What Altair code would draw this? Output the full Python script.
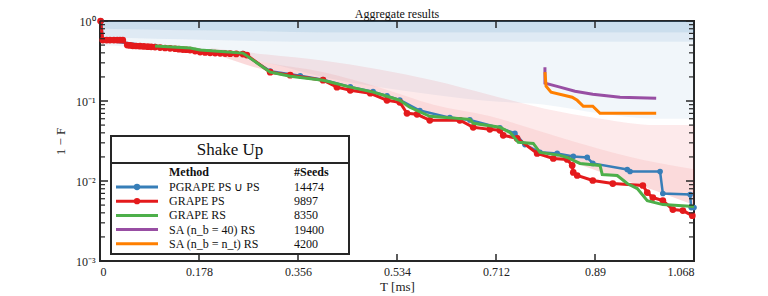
import altair as alt
import pandas as pd

# ---------------- data ----------------
x_ticks = [0, 0.178, 0.356, 0.534, 0.712, 0.89, 1.068]
x_tick_labels = ["0", "0.178", "0.356", "0.534", "0.712", "0.89", "1.068"]
y_ticks = [1.0, 0.1, 0.01, 0.001]
y_tick_labels = ["10⁰", "10⁻¹", "10⁻²", "10⁻³"]
y_minor = [k * d for d in (0.001, 0.01, 0.1) for k in range(2, 10)]

pgrape_T = [0.002, 0.005, 0.099, 0.257, 0.306, 0.360, 0.401, 0.450, 0.491, 0.516, 0.539,
            0.575, 0.629, 0.665, 0.719, 0.746, 0.764, 0.791, 0.822, 0.851, 0.876, 0.886,
            0.948, 0.953, 1.007, 1.012, 1.061, 1.063, 1.068]
pgrape_v = [1.0, 0.578, 0.480, 0.392, 0.236, 0.207, 0.185, 0.150, 0.131, 0.116, 0.103,
            0.076, 0.0620, 0.0580, 0.0462, 0.0394, 0.0285, 0.0228, 0.0221, 0.0203, 0.0197, 0.01658,
            0.01394, 0.01315, 0.01315, 0.00697, 0.00677, 0.00465, 0.00465]

grape_ps_T = [0.001, 0.005, 0.012, 0.018, 0.025, 0.031, 0.036, 0.041, 0.049, 0.054, 0.059,
              0.065, 0.072, 0.079, 0.086, 0.092, 0.099, 0.108, 0.117, 0.126, 0.135, 0.142,
              0.149, 0.155, 0.162, 0.171, 0.180, 0.189, 0.198, 0.207, 0.216, 0.225, 0.234,
              0.245, 0.257, 0.264, 0.306, 0.342,
              0.401, 0.426, 0.450, 0.486, 0.516, 0.539, 0.552, 0.570, 0.593, 0.647, 0.671,
              0.701, 0.719, 0.725, 0.750, 0.786, 0.815, 0.840, 0.849, 0.851, 0.858, 0.886,
              0.922, 0.976, 0.984, 0.994, 1.012, 1.030, 1.048, 1.065]
grape_ps_v = [1.0, 0.578, 0.578, 0.578, 0.578, 0.578, 0.578, 0.578, 0.500, 0.495, 0.490,
              0.487, 0.485, 0.481, 0.478, 0.475, 0.472, 0.466, 0.460, 0.455, 0.450, 0.445,
              0.440, 0.437, 0.433, 0.421, 0.409, 0.404, 0.400, 0.397, 0.395, 0.392, 0.390,
              0.388, 0.386, 0.375, 0.229, 0.210,
              0.182, 0.149, 0.136, 0.125, 0.102, 0.0964, 0.0702, 0.0682, 0.0574, 0.0574, 0.0469,
              0.0442, 0.0430, 0.0372, 0.0341, 0.0221, 0.0191, 0.0186, 0.01565, 0.01279, 0.01172, 0.01015,
              0.00930, 0.00878, 0.00717, 0.00621, 0.00569, 0.00439, 0.00427, 0.00369]

grape_rs_T = [0.099, 0.162, 0.180, 0.257, 0.306, 0.342, 0.401, 0.450, 0.491, 0.516, 0.539,
              0.557, 0.593, 0.665, 0.671, 0.719, 0.737, 0.752, 0.779, 0.791, 0.827, 0.840,
              0.863, 0.899, 0.903, 0.930, 0.948, 0.966, 0.984, 1.012, 1.068]
grape_rs_v = [0.486, 0.459, 0.433, 0.397, 0.229, 0.204, 0.182, 0.149, 0.129, 0.1147, 0.102,
              0.0835, 0.0644, 0.0590, 0.0526, 0.0469, 0.0406, 0.0304, 0.0295, 0.0228, 0.0209, 0.0197,
              0.01658, 0.01565, 0.01207, 0.01172, 0.00930, 0.00805, 0.00569, 0.00507, 0.00479]

sa40_T = [0.800, 0.800, 0.827, 0.854, 0.886, 0.935, 1.000]
sa40_v = [0.265, 0.167, 0.149, 0.1325, 0.1215, 0.1114, 0.1082]

sant_T = [0.800, 0.802, 0.811, 0.849, 0.858, 0.869, 0.886, 0.899, 1.000]
sant_v = [0.229, 0.153, 0.129, 0.1114, 0.102, 0.0859, 0.0859, 0.0702, 0.0702]

# approximate envelopes of the background scatter clouds
cloud_T = [0.005, 0.1, 0.2, 0.3, 0.4, 0.5, 0.6, 0.7, 0.8, 0.9, 1.0, 1.068]
blue_core_lo = [0.80, 0.78, 0.76, 0.74, 0.72, 0.72, 0.72, 0.72, 0.72, 0.72, 0.72, 0.72]
blue_dense_lo = [0.62, 0.60, 0.58, 0.56, 0.55, 0.55, 0.55, 0.55, 0.55, 0.55, 0.55, 0.55]
blue_sparse_lo = [0.50, 0.45, 0.40, 0.30, 0.20, 0.15, 0.12, 0.10, 0.09, 0.07, 0.06, 0.06]
red_T = [0.2, 0.3, 0.4, 0.5, 0.6, 0.7, 0.8, 0.9, 1.0, 1.068]
red_hi = [0.46, 0.38, 0.32, 0.25, 0.18, 0.12, 0.08, 0.06, 0.05, 0.05]
red_mid = [0.43, 0.30, 0.23, 0.15, 0.09, 0.065, 0.040, 0.025, 0.017, 0.014]
red_lo = [0.40, 0.24, 0.18, 0.11, 0.065, 0.045, 0.023, 0.013, 0.0075, 0.005]

legend_methods = ["PGRAPE PS ∪ PS", "GRAPE PS", "GRAPE RS", "SA (n_b = 40) RS", "SA (n_b = n_t) RS"]
legend_seeds = ["14474", "9897", "8350", "19400", "4200"]
colors = ["#377eb8", "#e41a1c", "#4daf4a", "#984ea3", "#ff7f00"]
has_marker = [True, True, False, False, False]

# ---------------- styling ----------------
SERIF = "Liberation Serif"
W, H = 594, 240
FRAME = "#262626"


def label_expr(vals, labels):
    expr = "''"
    for v, l in reversed(list(zip(vals, labels))):
        expr = f"datum.value == {v} ? '{l}' : ({expr})"
    return expr


xscale = alt.Scale(domain=[0, 1.068], nice=False, zero=False)
yscale = alt.Scale(type="log", domain=[0.001, 1], nice=False)
xaxis = alt.Axis(values=x_ticks, labelExpr=label_expr(x_ticks, x_tick_labels), ticks=False,
                 domain=False, grid=False, labelFont=SERIF, labelFontSize=12, labelColor="#222",
                 labelPadding=5, title="T [ms]", titleFont=SERIF, titleFontSize=13,
                 titleFontWeight="normal", titleColor="#222", titlePadding=3)
yaxis = alt.Axis(values=y_ticks, labelExpr=label_expr(y_ticks, y_tick_labels), ticks=False,
                 domain=False, grid=False, labelFont=SERIF, labelFontSize=12, labelColor="#222",
                 labelPadding=5, title="1 − F", titleFont=SERIF, titleFontSize=13,
                 titleFontWeight="normal", titleColor="#222", titlePadding=8)
X = alt.X("T:Q", scale=xscale, axis=xaxis)
Y = alt.Y("v:Q", scale=yscale, axis=yaxis)

layers = []

# background clouds
bands = [
    (cloud_T, blue_dense_lo, blue_sparse_lo, colors[0], 0.07),
    (cloud_T, blue_core_lo, blue_dense_lo, colors[0], 0.16),
    (cloud_T, [1.0] * len(cloud_T), blue_core_lo, colors[0], 0.26),
    (red_T, red_hi, red_mid, colors[1], 0.09),
    (red_T, red_mid, red_lo, colors[1], 0.16),
]
for t, hi, lo, c, op in bands:
    df = pd.DataFrame({"T": t, "v": hi, "v2": lo})
    layers.append(alt.Chart(df).mark_area(color=c, opacity=op, interpolate="monotone")
                  .encode(x=X, y=Y, y2="v2:Q"))

series = [
    (pgrape_T, pgrape_v, colors[0], 2.5, 32),
    (grape_ps_T, grape_ps_v, colors[1], 3.0, 45),
    (grape_rs_T, grape_rs_v, colors[2], 3.0, 0),
    (sa40_T, sa40_v, colors[3], 3.0, 0),
    (sant_T, sant_v, colors[4], 3.0, 0),
]
for t, v, c, sw, ms in series:
    df = pd.DataFrame({"T": t, "v": v})
    if ms:
        mk = alt.Chart(df).mark_line(color=c, strokeWidth=sw,
                                     point=alt.OverlayMarkDef(filled=True, size=ms, color=c, opacity=1))
    else:
        mk = alt.Chart(df).mark_line(color=c, strokeWidth=sw)
    layers.append(mk.encode(x=X, y=Y))

# inward ticks
xt = pd.DataFrame({"T": x_ticks})
yt = pd.DataFrame({"v": y_ticks})
ym = pd.DataFrame({"v": y_minor})
layers.append(alt.Chart(xt).mark_rule(color=FRAME, strokeWidth=1.5)
              .encode(x=X, y=alt.value(0), y2=alt.value(7)))
layers.append(alt.Chart(xt).mark_rule(color=FRAME, strokeWidth=1.5)
              .encode(x=X, y=alt.value(H), y2=alt.value(H - 7)))
layers.append(alt.Chart(yt).mark_rule(color=FRAME, strokeWidth=1.5)
              .encode(y=Y, x=alt.value(0), x2=alt.value(8)))
layers.append(alt.Chart(yt).mark_rule(color=FRAME, strokeWidth=1.5)
              .encode(y=Y, x=alt.value(W), x2=alt.value(W - 8)))
layers.append(alt.Chart(ym).mark_rule(color=FRAME, strokeWidth=1.2)
              .encode(y=Y, x=alt.value(0), x2=alt.value(5)))
layers.append(alt.Chart(ym).mark_rule(color=FRAME, strokeWidth=1.2)
              .encode(y=Y, x=alt.value(W), x2=alt.value(W - 5)))

# title (as text so it sits inside the top padding)
layers.append(alt.Chart(pd.DataFrame({"label": ["Aggregate results"]}))
              .mark_text(font=SERIF, fontSize=12, color="#111", align="center", baseline="alphabetic")
              .encode(text="label:N", x=alt.value(W / 2), y=alt.value(-3)))

# legend (drawn manually)
one = pd.DataFrame({"a": [0]})
LX0, LX1, LY0, LY1, LDIV = 11, 249, 115, 233, 142
layers.append(alt.Chart(one).mark_rect(fill="white", stroke=FRAME, strokeWidth=2)
              .encode(x=alt.value(LX0), x2=alt.value(LX1), y=alt.value(LY0), y2=alt.value(LY1)))
layers.append(alt.Chart(one).mark_rule(color=FRAME, strokeWidth=2)
              .encode(x=alt.value(LX0), x2=alt.value(LX1), y=alt.value(LDIV)))
layers.append(alt.Chart(pd.DataFrame({"label": ["Shake Up"]}))
              .mark_text(font=SERIF, fontSize=17, color="#111", align="center", baseline="middle")
              .encode(text="label:N", x=alt.value((LX0 + LX1) / 2), y=alt.value(129)))
hdr = pd.DataFrame({"label": ["Method", "#Seeds"]})
for i, xx in enumerate([69, 194]):
    layers.append(alt.Chart(hdr.iloc[[i]])
                  .mark_text(font=SERIF, fontSize=12, fontWeight="bold", color="#111",
                             align="left", baseline="middle")
                  .encode(text="label:N", x=alt.value(xx), y=alt.value(151)))
for i in range(len(legend_methods)):
    yy = 166 + i * 14.2
    row = pd.DataFrame({"method": [legend_methods[i]], "seeds": [legend_seeds[i]]})
    layers.append(alt.Chart(row).mark_rule(color=colors[i], strokeWidth=3)
                  .encode(x=alt.value(16), x2=alt.value(58), y=alt.value(yy)))
    if has_marker[i]:
        layers.append(alt.Chart(row).mark_point(filled=True, size=40, color=colors[i], opacity=1)
                      .encode(x=alt.value(37), y=alt.value(yy)))
    layers.append(alt.Chart(row).mark_text(font=SERIF, fontSize=12, color="#111",
                                           align="left", baseline="middle")
                  .encode(text="method:N", x=alt.value(69), y=alt.value(yy)))
    layers.append(alt.Chart(row).mark_text(font=SERIF, fontSize=12, color="#111",
                                           align="left", baseline="middle")
                  .encode(text="seeds:N", x=alt.value(194), y=alt.value(yy)))

chart = alt.layer(*layers).properties(
    width=W, height=H,
    autosize=alt.AutoSizeParams(type="none"),
    padding={"left": 92, "top": 13, "right": 66, "bottom": 35},
).configure_view(stroke=FRAME, strokeWidth=2)

chart.save("out.html", embed_options={"renderer": "svg", "actions": False})
